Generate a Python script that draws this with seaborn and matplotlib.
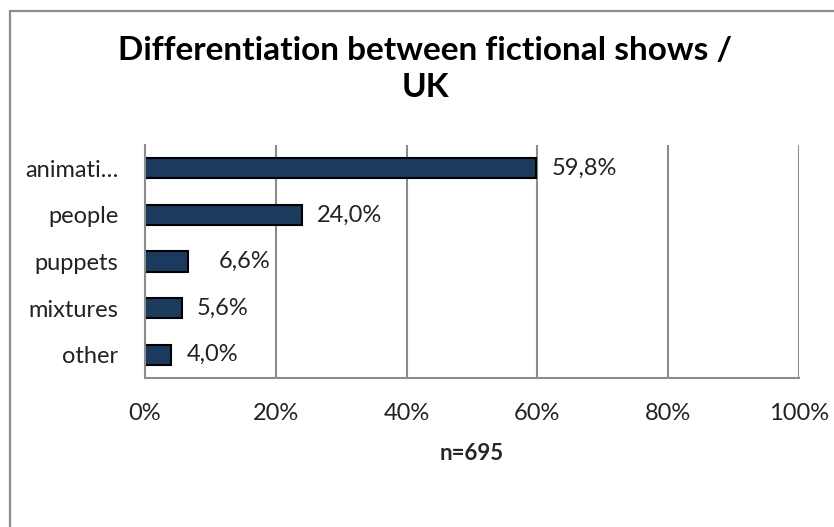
import matplotlib.pyplot as plt
import matplotlib.patches as mpatches
import pandas as pd
import seaborn as sns

# Chart data
categories = ["animati…", "people", "puppets", "mixtures", "other"]
shares = [59.8, 24.0, 6.6, 5.6, 4.0]
value_labels = ["59,8%", "24,0%", "6,6%", "5,6%", "4,0%"]
x_ticks = [0, 20, 40, 60, 80, 100]
x_tick_labels = ["0%", "20%", "40%", "60%", "80%", "100%"]

# Gap (points) between bar end and its value label, as placed in the original
label_gap = [11, 11, 22, 11, 11]

sns.set_theme(style="white")
plt.rcParams["font.family"] = ["Lato", "DejaVu Sans"]

data = pd.DataFrame({"Category": categories, "Share": shares})

fig = plt.figure(figsize=(8.34, 5.27), dpi=100)
ax = fig.add_axes([145 / 834, 1 - 378 / 527, 654 / 834, 233 / 527])

# Outer chart frame (open on the right)
fig.patches.append(mpatches.Rectangle((9.5 / 834, -0.05), 1.2, 1 - 11 / 527 + 0.05,
                                      transform=fig.transFigure, fill=False,
                                      edgecolor="#8c8c8c", linewidth=1.6))

sns.barplot(data=data, x="Share", y="Category", orient="h", color="#1b3a5e",
            edgecolor="black", linewidth=1.5, width=0.43, saturation=1, ax=ax)

ax.set_xlim(0, 100)
ax.set_xticks(x_ticks)
ax.set_xticklabels(x_tick_labels, fontsize=17, color="#222222")
ax.tick_params(axis="x", length=5, width=1.5, color="#8c8c8c", direction="out", pad=13)
ax.tick_params(axis="y", length=0, labelsize=17, labelcolor="#222222", pad=19)

# Category separators drawn as outward ticks on the left
ax.set_yticks([i - 0.5 for i in range(len(categories) + 1)], minor=True)
ax.tick_params(axis="y", which="minor", length=6, width=1.5, color="#8c8c8c", direction="out")

ax.xaxis.grid(True, color="#8c8c8c", linewidth=1.5)
ax.set_axisbelow(True)
for side in ["top", "right"]:
    ax.spines[side].set_visible(False)
for side in ["left", "bottom"]:
    ax.spines[side].set_color("#8c8c8c")
    ax.spines[side].set_linewidth(1.5)

ax.set_ylabel("")
ax.set_xlabel("n=695", fontsize=16, fontweight="bold", labelpad=14)

# Value labels to the right of the bars
for i, (v, lab) in enumerate(zip(shares, value_labels)):
    ax.annotate(lab, (v, i), xytext=(label_gap[i], 0), textcoords="offset points",
                va="center", ha="left", fontsize=17, color="#222222")

fig.text(425 / 834, 1 - 69 / 527, "Differentiation between fictional shows /\nUK",
         ha="center", va="center", fontsize=24, fontweight="bold",
         linespacing=1.35, color="black")

fig.savefig("out.png", dpi=100)
